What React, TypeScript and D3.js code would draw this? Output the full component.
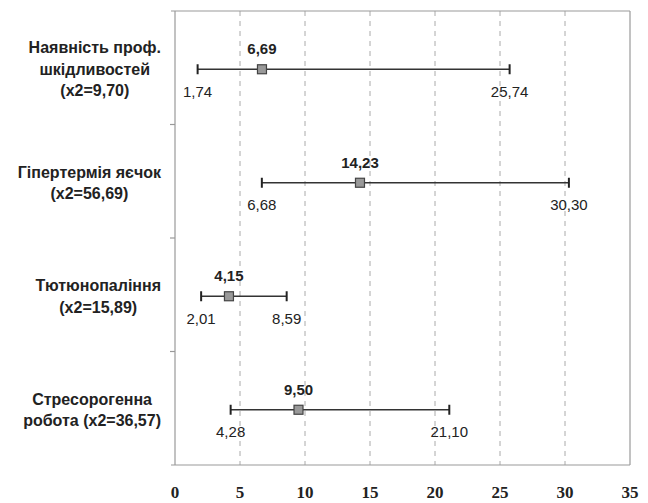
import React, { useEffect, useRef } from "react";
import * as d3 from "d3";

const categories = [
  ["Наявність проф.", "шкідливостей", "(x2=9,70)"],
  ["Гіпертермія яєчок", "(x2=56,69)"],
  ["Тютюнопаління", "(x2=15,89)"],
  ["Стресорогенна", "робота (x2=36,57)"],
];
const means = [6.69, 14.23, 4.15, 9.5];
const lowers = [1.74, 6.68, 2.01, 4.28];
const uppers = [25.74, 30.3, 8.59, 21.1];
const xTicks = [0, 5, 10, 15, 20, 25, 30, 35];

export default function App() {
  const ref = useRef<SVGSVGElement>(null);

  useEffect(() => {
    const width = 648;
    const height = 503;
    const plot = { left: 175, right: 630, top: 11, bottom: 465 };

    const svg = d3.select(ref.current);
    svg.selectAll("*").remove();

    const x = d3.scaleLinear().domain([0, 35]).range([plot.left, plot.right]);
    const y = d3
      .scaleBand<number>()
      .domain(d3.range(categories.length))
      .range([plot.top, plot.bottom]);

    const fmt = (v: number) => d3.format(".2f")(v).replace(".", ",");
    const sans = "'Liberation Sans', Arial, sans-serif";

    // dashed grid
    svg
      .append("g")
      .selectAll("line")
      .data(xTicks.slice(1, -1))
      .join("line")
      .attr("x1", (d) => x(d))
      .attr("x2", (d) => x(d))
      .attr("y1", plot.top)
      .attr("y2", plot.bottom)
      .attr("stroke", "#aaa")
      .attr("stroke-width", 1)
      .attr("stroke-dasharray", "5,5");

    // frame
    const frame = svg.append("g").attr("stroke", "#999").attr("stroke-width", 1.2);
    frame.append("line").attr("x1", plot.left - 4).attr("x2", plot.right).attr("y1", plot.top).attr("y2", plot.top);
    frame.append("line").attr("x1", plot.right).attr("x2", plot.right).attr("y1", plot.top).attr("y2", plot.bottom);
    frame.append("line").attr("x1", plot.left - 4).attr("x2", plot.right).attr("y1", plot.bottom).attr("y2", plot.bottom);
    frame.append("line").attr("x1", plot.left).attr("x2", plot.left).attr("y1", plot.top).attr("y2", plot.bottom);
    frame
      .selectAll("line.tk")
      .data(d3.range(1, categories.length))
      .join("line")
      .attr("class", "tk")
      .attr("x1", plot.left - 5)
      .attr("x2", plot.left)
      .attr("y1", (i) => y(i)!)
      .attr("y2", (i) => y(i)!);

    // x tick labels
    svg
      .append("g")
      .selectAll("text")
      .data(xTicks)
      .join("text")
      .attr("x", (d) => x(d))
      .attr("y", 498)
      .attr("text-anchor", "middle")
      .attr("font-family", "'Liberation Serif', 'Times New Roman', serif")
      .attr("font-weight", "bold")
      .attr("font-size", 17)
      .attr("fill", "#222")
      .text((d) => d);

    const rows = svg
      .append("g")
      .selectAll("g")
      .data(d3.range(categories.length))
      .join("g")
      .attr("transform", (i) => `translate(0,${y(i)! + y.bandwidth() / 2 + 1.5})`);

    // error bar line
    rows
      .append("line")
      .attr("x1", (i) => x(lowers[i]))
      .attr("x2", (i) => x(uppers[i]))
      .attr("stroke", "#333")
      .attr("stroke-width", 1.6);
    // caps
    [lowers, uppers].forEach((arr) => {
      rows
        .append("line")
        .attr("x1", (i) => x(arr[i]))
        .attr("x2", (i) => x(arr[i]))
        .attr("y1", -5)
        .attr("y2", 5)
        .attr("stroke", "#222")
        .attr("stroke-width", 2);
      rows
        .append("text")
        .attr("x", (i) => x(arr[i]))
        .attr("y", 27.5)
        .attr("text-anchor", "middle")
        .attr("font-family", sans)
        .attr("font-size", 15)
        .attr("fill", "#222")
        .text((i) => fmt(arr[i]));
    });
    // mean marker
    rows
      .append("rect")
      .attr("x", (i) => x(means[i]) - 4.5)
      .attr("y", -4.5)
      .attr("width", 9)
      .attr("height", 9)
      .attr("fill", "#999")
      .attr("stroke", "#444")
      .attr("stroke-width", 1.2);
    rows
      .append("text")
      .attr("x", (i) => x(means[i]))
      .attr("y", -15)
      .attr("text-anchor", "middle")
      .attr("font-family", sans)
      .attr("font-weight", "bold")
      .attr("font-size", 15)
      .attr("fill", "#222")
      .text((i) => fmt(means[i]));

    // category labels: lines centered within a right-aligned block
    const lineH = 21.5;
    rows.each(function (i) {
      const g = d3.select(this);
      const lines = categories[i];
      const texts = g
        .selectAll("text.cat")
        .data(lines)
        .join("text")
        .attr("class", "cat")
        .attr("font-family", sans)
        .attr("font-weight", "bold")
        .attr("font-size", 16)
        .attr("fill", "#222")
        .attr("text-anchor", "middle")
        .attr("y", (_, k) => (k - (lines.length - 1) / 2) * lineH + 5.5)
        .text((d) => d);
      let maxW = 0;
      texts.each(function () {
        maxW = Math.max(maxW, (this as SVGTextElement).getComputedTextLength());
      });
      texts.attr("x", 161 - maxW / 2);
    });

    svg.attr("width", width).attr("height", height);
  }, []);

  return (
    <svg
      ref={ref}
      width={648}
      height={503}
      style={{ position: "absolute", left: 0, top: 0, background: "#fff" }}
    />
  );
}
